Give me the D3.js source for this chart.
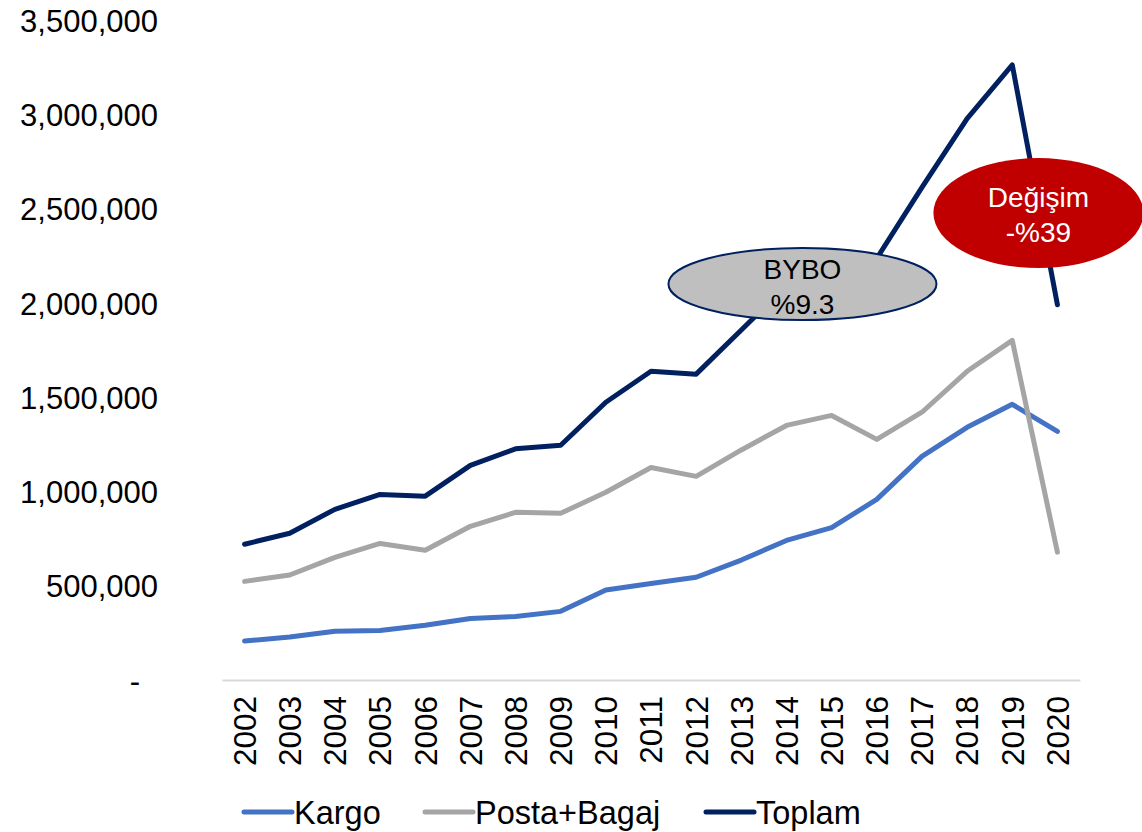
<!DOCTYPE html>
<html>
<head>
<meta charset="utf-8">
<script src="https://cdn.jsdelivr.net/npm/d3@7"></script>
<style>
  body { margin: 0; background: #fff; }
  text { font-family: "Liberation Sans", Arial, sans-serif; }
</style>
</head>
<body>
<svg id="chart"></svg>
<script>
// Data
const years = ["2002","2003","2004","2005","2006","2007","2008","2009","2010","2011",
               "2012","2013","2014","2015","2016","2017","2018","2019","2020"]
const kargo = [207000, 228000, 258000, 263000, 290000, 326000, 337000, 364000, 477000, 512000,
               545000, 636000, 740000, 808000, 958000, 1186000, 1340000, 1462000, 1318000]
const postaBagaj = [523000, 557000, 650000, 724000, 688000, 815000, 889000, 884000, 996000, 1127000,
                    1080000, 1220000, 1350000, 1403000, 1276000, 1420000, 1637000, 1801000, 678000]
const toplam = [720000, 778000, 905000, 984000, 975000, 1138000, 1226000, 1245000, 1473000, 1637000,
                1622000, 1856000, 2090000, 2211000, 2236000, 2612000, 2977000, 3262000, 1990000]
const yTicks = [0, 500000, 1000000, 1500000, 2000000, 2500000, 3000000, 3500000]
const seriesNames = ["Kargo", "Posta+Bagaj", "Toplam"]
const seriesColors = ["#4472c4", "#a5a5a5", "#002060"]

const width = 1142
const height = 832

const svg = d3.select('#chart')
    .attr('width', width)
    .attr('height', height)

// scales
const x = d3.scaleBand()
    .domain(years)
    .range([222, 1080])

const y = d3.scaleLinear()
    .domain([0, 3500000])
    .range([680, 20])

const xc = d => x(d) + x.bandwidth() / 2

// Y axis
const yAxis = d3.axisLeft(y)
    .tickValues(yTicks)
    .tickSize(0)
    .tickPadding(8)
    .tickFormat(d => d === 0 ? '-' : d3.format(',')(d))

const gy = svg.append('g')
    .attr('transform', 'translate(166,0)')
    .call(yAxis)
gy.select('.domain').remove()
gy.selectAll('text')
    .attr('font-size', 31)
    .attr('fill', '#000')
    .attr('dy', '0.36em')
    .attr('dx', d => d === 0 ? -18 : 0)

// X axis
const xAxis = d3.axisBottom(x).tickSize(0).tickPadding(0)
const gx = svg.append('g')
    .attr('transform', 'translate(0,680)')
    .call(xAxis)
gx.select('.domain')
    .attr('stroke', '#d9d9d9')
    .attr('stroke-width', 2)
gx.selectAll('text')
    .attr('font-size', 31.5)
    .attr('fill', '#000')
    .attr('text-anchor', 'end')
    .attr('transform', 'rotate(-90)')
    .attr('x', -16)
    .attr('y', 0)
    .attr('dy', '0.36em')

// Lines
const allSeries = [kargo, postaBagaj, toplam]
const line = d3.line()
    .x((d, i) => xc(years[i]))
    .y(d => y(d))

svg.append('g')
    .selectAll('path')
    .data(allSeries)
    .enter()
    .append('path')
    .attr('d', d => line(d))
    .attr('fill', 'none')
    .attr('stroke', (d, i) => seriesColors[i])
    .attr('stroke-width', 5)
    .attr('stroke-linejoin', 'round')
    .attr('stroke-linecap', 'round')

// Annotations
const bybo = svg.append('g')
    .attr('transform', `translate(${xc('2014') + 16}, ${y(2100000)})`)
bybo.append('ellipse')
    .attr('rx', 134).attr('ry', 36)
    .attr('fill', '#bfbfbf')
    .attr('stroke', '#002060')
    .attr('stroke-width', 2)
bybo.append('text')
    .attr('text-anchor', 'middle')
    .attr('font-size', 28)
    .attr('y', -5)
    .text('BYBO')
bybo.append('text')
    .attr('text-anchor', 'middle')
    .attr('font-size', 28)
    .attr('y', 30)
    .text('%9.3')

const change = svg.append('g')
    .attr('transform', `translate(${xc('2020') - 19}, ${y(2476000)})`)
change.append('ellipse')
    .attr('rx', 105).attr('ry', 55)
    .attr('fill', '#c00000')
change.append('text')
    .attr('text-anchor', 'middle')
    .attr('font-size', 28)
    .attr('fill', '#fff')
    .attr('y', -6)
    .text('Değişim')
change.append('text')
    .attr('text-anchor', 'middle')
    .attr('font-size', 28)
    .attr('fill', '#fff')
    .attr('y', 29)
    .text('-%39')

// Legend
const legendX = [244, 425, 706]
const legend = svg.append('g')
    .selectAll('g')
    .data(seriesNames)
    .enter()
    .append('g')
    .attr('transform', (d, i) => `translate(${legendX[i]}, 812)`)
legend.append('line')
    .attr('x1', 0).attr('x2', 48)
    .attr('stroke', (d, i) => seriesColors[i])
    .attr('stroke-width', 5)
    .attr('stroke-linecap', 'round')
legend.append('text')
    .attr('x', 50)
    .attr('dy', '0.36em')
    .attr('font-size', 32.5)
    .text(d => d)
</script>
</body>
</html>
